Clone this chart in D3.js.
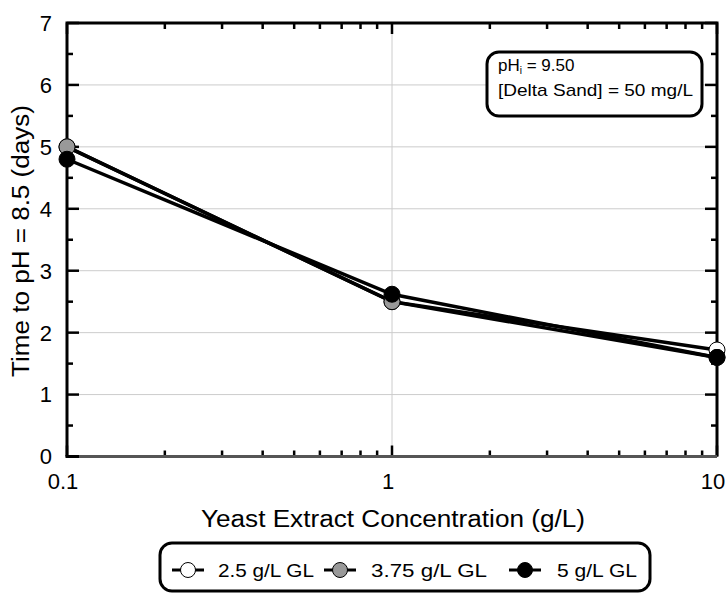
<!DOCTYPE html>
<html>
<head>
<meta charset="utf-8">
<script src="https://cdn.jsdelivr.net/npm/d3@7"></script>
<style>
  html, body { margin: 0; padding: 0; background: #fff; }
  text { font-family: Arial, "Liberation Sans", sans-serif; fill: #000; }
</style>
</head>
<body>
<svg id="chart" width="728" height="593"></svg>
<script>
// yeast extract concentration (g/L), log axis
const concentrations = [0.1, 1, 10];
const seriesNames = ['2.5 g/L GL', '3.75 g/L GL', '5 g/L GL'];
const seriesFills = ['#ffffff', '#999999', '#000000'];
// time to pH = 8.5 (days)
const gl25 = [5.0, 2.5, 1.72];
const gl375 = [5.0, 2.5, 1.6];
const gl5 = [4.8, 2.62, 1.6];
const yTicks = [0, 1, 2, 3, 4, 5, 6, 7];
const xTicks = [0.1, 1, 10];
const xTickLabels = ['0.1', '1', '10'];

const svg = d3.select('#chart');
const plotL = 67, plotR = 717, plotT = 23, plotB = 456.5;

const x = d3.scaleLog().domain([0.1, 10]).range([plotL, plotR]);
const y = d3.scaleLinear().domain([0, 7]).range([plotB, plotT]);

// grid
svg.append('g').selectAll('line')
    .data(yTicks.filter(d => d > 0 && d < 7))
    .join('line')
    .attr('x1', plotL).attr('x2', plotR)
    .attr('y1', d => y(d)).attr('y2', d => y(d))
    .attr('stroke', '#cccccc').attr('stroke-width', 1);
svg.append('line')
    .attr('x1', x(1)).attr('x2', x(1))
    .attr('y1', plotT).attr('y2', plotB)
    .attr('stroke', '#cccccc').attr('stroke-width', 1);

// minor log positions
const minorX = [];
[0.1, 1].forEach(b => { for (let k = 2; k <= 9; k++) minorX.push(b * k); });
const halfY = d3.range(0.5, 7, 1);

const ticks = svg.append('g').attr('stroke', '#000').attr('stroke-width', 2.5);
// left / right major and minor ticks
yTicks.forEach(d => {
    ticks.append('line').attr('x1', plotL).attr('x2', plotL + 12).attr('y1', y(d)).attr('y2', y(d));
    ticks.append('line').attr('x1', plotR).attr('x2', plotR - 12).attr('y1', y(d)).attr('y2', y(d));
});
halfY.forEach(d => {
    ticks.append('line').attr('x1', plotL).attr('x2', plotL + 6).attr('y1', y(d)).attr('y2', y(d));
    ticks.append('line').attr('x1', plotR).attr('x2', plotR - 6).attr('y1', y(d)).attr('y2', y(d));
});
// top / bottom ticks
xTicks.forEach(d => {
    ticks.append('line').attr('x1', x(d)).attr('x2', x(d)).attr('y1', plotB).attr('y2', plotB - 11);
    ticks.append('line').attr('x1', x(d)).attr('x2', x(d)).attr('y1', plotT).attr('y2', plotT + 11);
});
minorX.forEach(d => {
    ticks.append('line').attr('x1', x(d)).attr('x2', x(d)).attr('y1', plotB).attr('y2', plotB - 6);
    ticks.append('line').attr('x1', x(d)).attr('x2', x(d)).attr('y1', plotT).attr('y2', plotT + 6);
});

// frame
svg.append('path')
    .attr('d', `M${plotL},${plotB}V${plotT}H${plotR}V${plotB}`)
    .attr('fill', 'none').attr('stroke', '#000').attr('stroke-width', 3);
svg.append('line')
    .attr('x1', plotL).attr('x2', plotR).attr('y1', plotB).attr('y2', plotB)
    .attr('stroke', '#555').attr('stroke-width', 3);
svg.append('line')
    .attr('x1', plotL - 1.5).attr('x2', plotL + 12).attr('y1', plotB).attr('y2', plotB)
    .attr('stroke', '#000').attr('stroke-width', 3);

// tick labels
svg.append('g').selectAll('text')
    .data(yTicks).join('text')
    .attr('x', 52).attr('y', d => y(d)).attr('dy', '0.36em')
    .attr('text-anchor', 'end').attr('font-size', 22)
    .text(d => d);
svg.append('g').selectAll('text')
    .data(xTicks).join('text')
    .attr('x', d => x(d) - 4).attr('y', 489)
    .attr('text-anchor', 'middle').attr('font-size', 22)
    .text((d, i) => xTickLabels[i]);

// axis titles
svg.append('text')
    .attr('x', 393).attr('y', 527)
    .attr('text-anchor', 'middle').attr('font-size', 23)
    .attr('textLength', 384).attr('lengthAdjust', 'spacingAndGlyphs')
    .text('Yeast Extract Concentration (g/L)');
svg.append('text')
    .attr('transform', 'translate(29,' + 241 + ') rotate(-90)')
    .attr('text-anchor', 'middle').attr('font-size', 23)
    .attr('textLength', 272).attr('lengthAdjust', 'spacingAndGlyphs')
    .text('Time to pH = 8.5 (days)');

// series
const series = [gl25, gl375, gl5];
const line = d3.line().x((d, i) => x(concentrations[i])).y(d => y(d));
series.forEach(vals => {
    svg.append('path').datum(vals)
        .attr('d', line)
        .attr('fill', 'none').attr('stroke', '#000').attr('stroke-width', 3.5);
});
series.forEach((vals, s) => {
    svg.append('g').selectAll('circle')
        .data(vals).join('circle')
        .attr('cx', (d, i) => x(concentrations[i]))
        .attr('cy', d => y(d))
        .attr('r', 8)
        .attr('fill', seriesFills[s])
        .attr('stroke', '#000').attr('stroke-width', 1);
});

// annotation box
const note = svg.append('g');
note.append('rect')
    .attr('x', 487).attr('y', 52).attr('width', 215).attr('height', 64)
    .attr('rx', 12).attr('fill', '#fff').attr('stroke', '#000').attr('stroke-width', 3);
const t1 = note.append('text').attr('x', 498).attr('y', 71)
    .attr('font-family', '"Open Sans", sans-serif').attr('font-size', 17);
t1.append('tspan').text('pH');
t1.append('tspan').attr('font-size', 10).attr('dy', 3).text('i');
t1.append('tspan').attr('dy', -3).text(' = 9.50');
note.append('text').attr('x', 498).attr('y', 96)
    .attr('font-family', '"Open Sans", sans-serif').attr('font-size', 17)
    .attr('textLength', 195).attr('lengthAdjust', 'spacingAndGlyphs')
    .text('[Delta Sand] = 50 mg/L');

// legend
const legend = svg.append('g');
legend.append('rect')
    .attr('x', 160).attr('y', 543).attr('width', 490).attr('height', 48)
    .attr('rx', 12).attr('fill', '#fff').attr('stroke', '#000').attr('stroke-width', 3);
const legendMarkX = [188, 340, 525];
const legendTextX = [218, 371, 557];
const legendTextW = [96, 116, 80];
seriesNames.forEach((name, i) => {
    const g = legend.append('g');
    g.append('line')
        .attr('x1', legendMarkX[i] - 16).attr('x2', legendMarkX[i] + 16)
        .attr('y1', 570).attr('y2', 570)
        .attr('stroke', '#000').attr('stroke-width', 3);
    g.append('circle')
        .attr('cx', legendMarkX[i]).attr('cy', 570).attr('r', 7.5)
        .attr('fill', seriesFills[i]).attr('stroke', '#000').attr('stroke-width', 1);
    g.append('text')
        .attr('x', legendTextX[i]).attr('y', 577)
        .attr('font-size', 19)
        .attr('textLength', legendTextW[i]).attr('lengthAdjust', 'spacingAndGlyphs')
        .text(name);
});
</script>
</body>
</html>
